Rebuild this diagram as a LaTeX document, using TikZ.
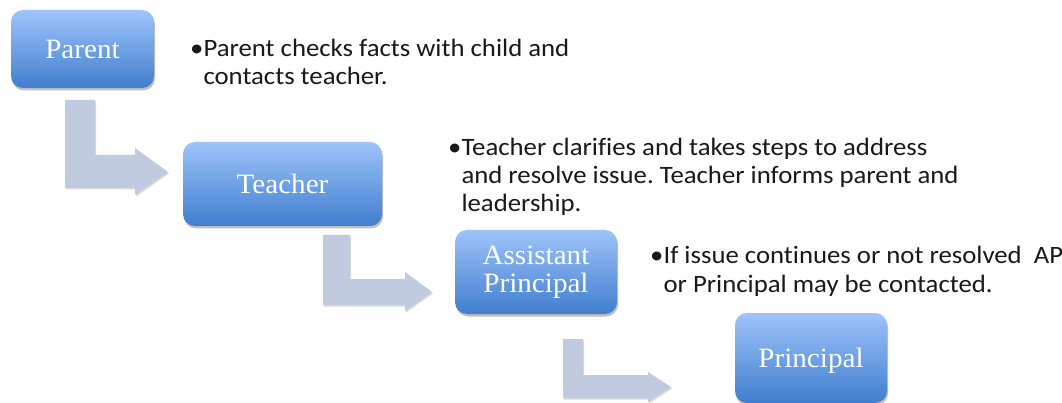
\documentclass[tikz,border=0pt]{standalone}
\usepackage{fontspec}
\setmainfont{Liberation Serif}[FakeStretch=1.04]
\newfontfamily\descfont{Carlito}[Ligatures=CommonOff, FakeStretch=1.07]
\usetikzlibrary{shadows}
\definecolor{boxtop}{RGB}{158,196,250}
\definecolor{boxbot}{RGB}{64,126,206}
\definecolor{arrowc}{RGB}{192,203,224}
\definecolor{textc}{RGB}{25,25,25}
\tikzset{
  stepbox/.style={rounded corners=12pt, top color=boxtop, bottom color=boxbot,
    draw=none, text=white, font=\fontsize{28}{28}\selectfont, align=center,
    inner sep=0pt,
    drop shadow={shadow xshift=1pt, shadow yshift=-2.5pt, opacity=0.25, fill=black}},
  oneline/.style={text height=19pt, text depth=0pt},
  bentarrow/.style={fill=arrowc, draw=none,
    drop shadow={shadow xshift=1pt, shadow yshift=-1.5pt, opacity=0.15, fill=black}},
  desc/.style={font=\descfont\fontsize{25}{28.3}\selectfont\frenchspacing, text=textc,
    align=left, inner sep=0pt}
}
\begin{document}
\begin{tikzpicture}[x=1pt, y=-1pt]
\clip (0,0) rectangle (1062,403);
\fill[white] (0,0) rectangle (1062,403);

% bent arrows
\path[bentarrow] (65,100) -- (95,100) -- (95,155) -- (135,155) -- (135,148)
  -- (168,172) -- (135,195) -- (135,188) -- (65,188) -- cycle;
\path[bentarrow] (323,235) -- (350,235) -- (350,279) -- (405,279) -- (405,272)
  -- (432,292) -- (405,311) -- (405,305) -- (323,305) -- cycle;
\path[bentarrow] (563,339) -- (583,339) -- (583,375) -- (648,375) -- (648,372)
  -- (671,387) -- (648,402) -- (648,398) -- (563,398) -- cycle;

% boxes
\node[stepbox, oneline, minimum width=143pt, minimum height=78pt] (parent) at (82.5,49) {Parent};
\node[stepbox, oneline, minimum width=199pt, minimum height=84pt] (teacher) at (282.5,184) {Teacher};
\node[stepbox, minimum width=162pt, minimum height=84pt] (ap) at (536,272) {Assistant\\Principal};
\node[stepbox, oneline, minimum width=152pt, minimum height=90pt] (principal) at (811,358) {Principal};

% descriptions (anchored at the baseline of the last line)
\node[desc, anchor=base west] (d1) at (190,85)
  {\textbullet Parent checks facts with child and\\\phantom{\textbullet}contacts teacher.};
\node[desc, anchor=base west] (d2) at (448,212)
  {\textbullet Teacher clarifies and takes steps to address\\\phantom{\textbullet}and resolve issue. Teacher informs parent and\\\phantom{\textbullet}leadership.};
\node[desc, anchor=base west] (d3) at (650,292)
  {\textbullet If issue continues or not resolved\ \ AP\\\phantom{\textbullet}or Principal may be contacted.};
\end{tikzpicture}
\end{document}
